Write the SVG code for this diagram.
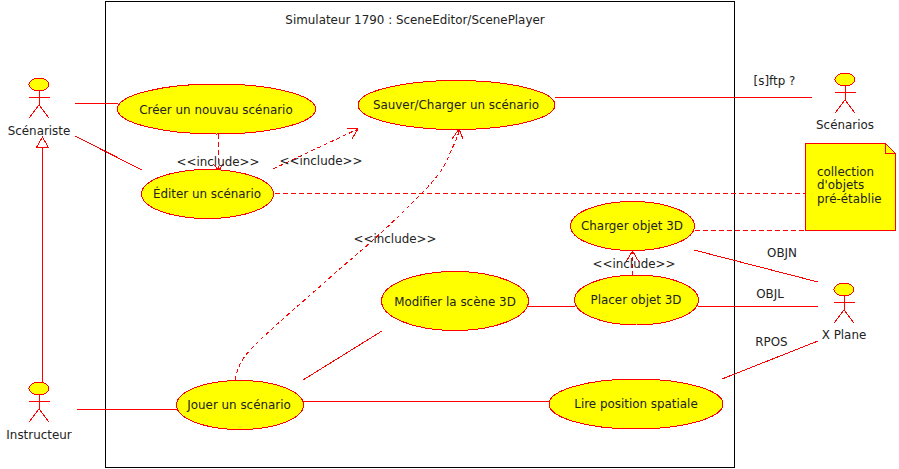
<svg xmlns="http://www.w3.org/2000/svg" width="899" height="469" viewBox="0 0 899 469">
<style>
text{font-family:"DejaVu Sans",sans-serif;font-size:11.9px;fill:#222}
.m{text-anchor:middle}
.u{fill:#ff0;stroke:#f00;stroke-width:1;shape-rendering:crispEdges}
.l{fill:none;stroke:#f00;stroke-width:1;shape-rendering:crispEdges}
.d{fill:none;stroke:#f00;stroke-width:1;stroke-dasharray:5 3;shape-rendering:crispEdges}
.f{fill:none;stroke:#f00;stroke-width:1;shape-rendering:crispEdges}
.s{fill:none;stroke:#f00;stroke-width:1;stroke-dasharray:4 3;shape-rendering:crispEdges}
</style>
<defs>
<g id="actor"><ellipse class="u" cx="0" cy="6.500" rx="10" ry="6.500"/><path class="f" d="M0 13V27M-10.500 19H10.500M0 27L-10 40M0 27L10 40"/></g>
</defs>
<rect id="frame" x="105.500" y="1.500" width="629" height="466" fill="#fff" stroke="#000" stroke-width="1" shape-rendering="crispEdges"/>
<text class="m" x="415" y="24">Simulateur 1790 : SceneEditor/ScenePlayer</text>
<g id="connectors">
<path class="l" d="M75 103.500H118M75 136L142 170M77 409.500H177M303 401.500H549M303 380L382 331M528 306.500H575M698 306.500H818M694 250L818 282M722 379L818 341M555 97.500H812"/>
<path class="l" d="M42.500 383V147"/><path d="M42.500 137L36.500 147.500H48.500Z" fill="#fff" stroke="#f00" stroke-width="1" shape-rendering="crispEdges"/>
<path class="d" d="M275 193.500H805M695 230.500H805"/>
<path class="d" d="M218.500 134V169"/><path class="f" d="M213 164L218.500 170L224 164"/>
<path class="s" d="M273 169L358 129"/><path class="f" d="M347 128L358 129L352 139"/>
<path class="s" d="M235 380C238 365 243 357 253 347C280 320 310 296 335 273C350 260 360 252 373 240C390 225 405 210 420 195C435 180 445 168 450 153C455 142 458 137 459 130"/><path class="f" d="M452 139L459 129L463 139"/>
<path class="s" d="M632.500 275V251"/><path class="f" d="M626 262L632.500 251L639 262"/>
</g>
<g id="scenariste"><use href="#actor" x="39" y="78"/><text class="m" x="39" y="135">Scénariste</text></g>
<g id="instructeur"><use href="#actor" x="39" y="382"/><text class="m" x="39" y="439">Instructeur</text></g>
<g id="scenarios"><use href="#actor" x="845" y="73"/><text class="m" x="845" y="129">Scénarios</text></g>
<g id="xplane"><use href="#actor" x="844" y="283"/><text class="m" x="844" y="339">X Plane</text></g>
<g id="creer"><ellipse class="u" cx="216.500" cy="109" rx="99" ry="25"/><text class="m" x="216" y="114">Créer un nouvau scénario</text></g>
<g id="editer"><ellipse class="u" cx="207.500" cy="194" rx="66" ry="24.500"/><text class="m" x="207" y="198">Éditer un scénario</text></g>
<g id="sauver"><ellipse class="u" cx="456.500" cy="105" rx="98.500" ry="24.500"/><text class="m" x="456" y="109">Sauver/Charger un scénario</text></g>
<g id="charger"><ellipse class="u" cx="632.500" cy="226" rx="62" ry="24.500"/><text class="m" x="632" y="230">Charger objet 3D</text></g>
<g id="placer"><ellipse class="u" cx="636.500" cy="300" rx="62" ry="25"/><text class="m" x="636" y="304">Placer objet 3D</text></g>
<g id="modifier"><ellipse class="u" cx="455" cy="301" rx="73.500" ry="29.500"/><text class="m" x="455" y="306">Modifier la scène 3D</text></g>
<g id="jouer"><ellipse class="u" cx="240" cy="405" rx="63.500" ry="24.500"/><text class="m" x="239" y="409">Jouer un scénario</text></g>
<g id="lire"><ellipse class="u" cx="636" cy="404" rx="87" ry="25"/><text class="m" x="636" y="408">Lire position spatiale</text></g>
<g id="note"><path d="M805.500 143.500H885.500L895.500 153.500V230.500H805.500Z" fill="#ff0" stroke="#f00" stroke-width="1" shape-rendering="crispEdges"/><path class="f" d="M885.500 143.500V153.500H895.500"/>
<text x="817" y="176">collection</text><text x="817" y="189">d'objets</text><text x="817" y="203">pré-établie</text></g>
<g id="labels">
<text class="m" x="218" y="166">&lt;&lt;include&gt;&gt;</text>
<text class="m" x="321" y="165">&lt;&lt;include&gt;&gt;</text>
<text class="m" x="395" y="243">&lt;&lt;include&gt;&gt;</text>
<text class="m" x="634" y="268">&lt;&lt;include&gt;&gt;</text>
<text class="m" x="774.500" y="85">[s]ftp ?</text>
<text class="m" x="782" y="257">OBJN</text>
<text class="m" x="770" y="298">OBJL</text>
<text class="m" x="771.500" y="346">RPOS</text>
</g>
</svg>
